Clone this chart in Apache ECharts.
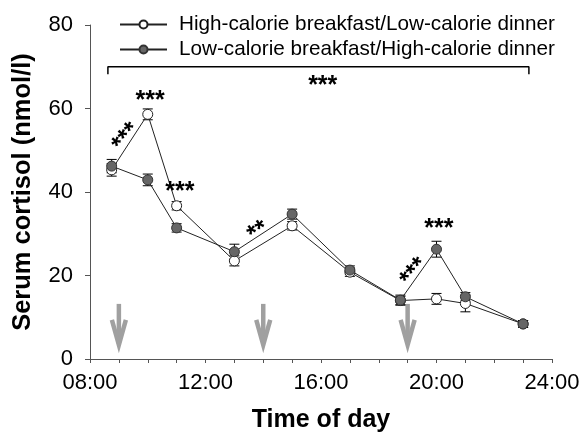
<!DOCTYPE html>
<html><head><meta charset="utf-8">
<script src="https://cdn.jsdelivr.net/npm/echarts@6/dist/echarts.min.js"></script>
<style>html,body{margin:0;padding:0;background:#fff}#c{width:586px;height:433px}</style>
</head><body><div id="c"></div>
<script>
const times = [8.75, 10, 11, 13, 15, 17, 18.75, 20, 21, 23];
const highBreakfast = [45.3, 58.6, 36.7, 23.5, 31.9, 20.8, 14.0, 14.4, 13.3, 8.4];
const highBreakfastErr = [1.5, 1.3, 1.0, 1.2, 1.0, 1.0, 1.0, 1.3, 2.0, 0.8];
const lowBreakfast = [46.2, 42.9, 31.4, 25.7, 34.7, 21.3, 14.1, 26.3, 14.9, 8.4];
const lowBreakfastErr = [1.6, 1.4, 1.0, 1.8, 1.2, 1.0, 1.2, 1.9, 1.0, 0.8];
const seriesNames = ['High-calorie breakfast/Low-calorie dinner', 'Low-calorie breakfast/High-calorie dinner'];
const mealTimes = [9, 14, 19];
const arrowTop = 13.2;
const arrowTip = 3.4;
const bracket = [[8.62, 68.2], [8.62, 70], [23.2, 70], [23.2, 68.2]];
// [time, value, text, rotation(deg)]
const stars = [
  [16.06, 66.8, '***', 0],
  [10.08, 63.2, '***', 0],
  [9.1, 54.0, '***', 50],
  [11.11, 41.3, '***', 0],
  [13.71, 31.7, '**', 32],
  [19.07, 21.7, '***', 50],
  [20.08, 32.6, '***', 0]
];
const xMin = 8, xMax = 24, xStep = 1, xLabelEvery = 4;
const yMin = 0, yMax = 80, yStep = 20;

const FONT = '"Liberation Sans", Arial, sans-serif';
const pad2 = v => (v < 10 ? '0' : '') + v;

function errData(vals, errs) { return times.map((t, i) => [t, vals[i], errs[i]]); }
function errRender(params, api) {
  const x = api.value(0), m = api.value(1), e = api.value(2);
  const top = api.coord([x, m + e]), bot = api.coord([x, m - e]);
  const cw = 5;
  const st = { stroke: '#000', lineWidth: 1 };
  return { type: 'group', children: [
    { type: 'line', shape: { x1: top[0], y1: top[1], x2: bot[0], y2: bot[1] }, style: st },
    { type: 'line', shape: { x1: top[0] - cw, y1: top[1], x2: top[0] + cw, y2: top[1] }, style: st },
    { type: 'line', shape: { x1: bot[0] - cw, y1: bot[1], x2: bot[0] + cw, y2: bot[1] }, style: st }
  ]};
}

const chart = echarts.init(document.getElementById('c'), null, { renderer: 'canvas' });
chart.setOption({
  animation: false,
  backgroundColor: '#fff',
  textStyle: { fontFamily: FONT },
  grid: { left: 90, right: 34, top: 25, bottom: 74, containLabel: false, outerBoundsMode: 'none' },
  legend: {
    orient: 'vertical', left: 114, top: 9,
    itemWidth: 47, itemHeight: 10, itemGap: 4,
    data: seriesNames,
    textStyle: { fontSize: 20.7, color: '#000', fontFamily: FONT, padding: [0, 0, 0, 7] }
  },
  xAxis: {
    type: 'value', min: xMin, max: xMax, interval: xStep,
    name: 'Time of day', nameLocation: 'middle', nameGap: 49,
    nameTextStyle: { fontSize: 25, fontWeight: 'bold', color: '#000', fontFamily: FONT },
    axisLine: { show: true, lineStyle: { color: '#555', width: 1 } },
    axisTick: { show: true, length: 4, lineStyle: { color: '#555' } },
    splitLine: { show: false },
    axisLabel: {
      fontSize: 22, color: '#000', margin: 13, fontFamily: FONT,
      formatter: v => (v % xLabelEvery === 0 ? pad2(v) + ':00' : '')
    }
  },
  yAxis: {
    type: 'value', min: yMin, max: yMax, interval: yStep,
    name: 'Serum cortisol (nmol/l)', nameLocation: 'middle', nameGap: 54,
    nameTextStyle: { fontSize: 25.5, fontWeight: 'bold', color: '#000', fontFamily: FONT },
    axisLine: { show: true, lineStyle: { color: '#555', width: 1 } },
    axisTick: { show: true, length: 5, lineStyle: { color: '#555' } },
    splitLine: { show: false },
    axisLabel: { fontSize: 22, color: '#000', margin: 17, fontFamily: FONT }
  },
  series: [
    {
      type: 'custom', name: 'arrows', silent: true, z: 1,
      data: mealTimes.map(t => [t, arrowTop, arrowTip]),
      renderItem: (params, api) => {
        const x = api.value(0);
        const a = api.coord([x, api.value(1)]), b = api.coord([x, api.value(2)]);
        const st = { stroke: '#a0a0a0', lineWidth: 4.5, fill: null };
        return { type: 'group', children: [
          { type: 'line', shape: { x1: a[0], y1: a[1], x2: b[0], y2: b[1] - 2 }, style: st },
          { type: 'polyline', shape: { points: [[b[0] - 7, b[1] - 25], [b[0], b[1]], [b[0] + 7, b[1] - 25]] }, style: st }
        ]};
      }
    },
    {
      type: 'line', name: 'bracket', silent: true, z: 2,
      data: bracket, showSymbol: false, symbol: 'none',
      lineStyle: { color: '#000', width: 1.5 }
    },
    {
      type: 'custom', name: 'stars', silent: true, z: 5,
      data: stars,
      renderItem: (params, api) => {
        const p = api.coord([api.value(0), api.value(1)]);
        const s = stars[params.dataIndex];
        return {
          type: 'text', x: p[0], y: p[1], rotation: s[3] * Math.PI / 180,
          style: { x: 0, y: 6, text: s[2], align: 'center', verticalAlign: 'middle',
            font: 'bold 25px ' + FONT, fill: '#000' }
        };
      }
    },
    {
      type: 'custom', name: 'errHigh', silent: true, z: 3,
      data: errData(highBreakfast, highBreakfastErr), renderItem: errRender
    },
    {
      type: 'custom', name: 'errLow', silent: true, z: 3,
      data: errData(lowBreakfast, lowBreakfastErr), renderItem: errRender
    },
    {
      type: 'line', name: seriesNames[0], z: 4,
      data: times.map((t, i) => [t, highBreakfast[i]]),
      symbol: 'circle', symbolSize: 10, showAllSymbol: true,
      lineStyle: { color: '#222', width: 1 },
      itemStyle: { color: '#fff', borderColor: '#222', borderWidth: 1 }
    },
    {
      type: 'line', name: seriesNames[1], z: 4,
      data: times.map((t, i) => [t, lowBreakfast[i]]),
      symbol: 'circle', symbolSize: 10, showAllSymbol: true,
      lineStyle: { color: '#222', width: 1 },
      itemStyle: { color: '#666', borderColor: '#333', borderWidth: 1 }
    }
  ]
});
</script></body></html>
